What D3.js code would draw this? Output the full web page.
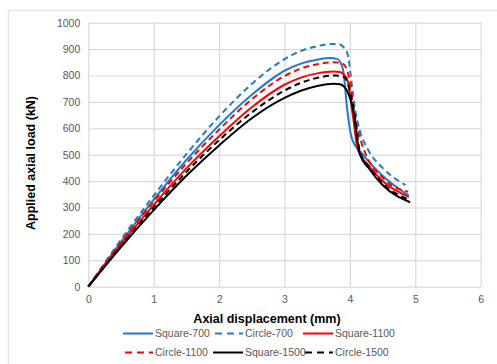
<!DOCTYPE html>
<html><head><meta charset="utf-8">
<script src="https://cdn.jsdelivr.net/npm/d3@7"></script>
<style>body{margin:0;background:#fff}svg{display:block}</style>
</head><body>
<svg id="c" width="497" height="364"></svg>
<script>
const xTicks = [0,1,2,3,4,5,6];
const yTicks = [0,100,200,300,400,500,600,700,800,900,1000];
const seriesNames = ["Square-700","Circle-700","Square-1100","Circle-1100","Square-1500","Circle-1500"];
const seriesColors = ["#1f7bd0","#1f7bd0","#ff0000","#ff0000","#000000","#000000"];
const seriesDashed = [false,true,false,true,false,true];
const square700 = [[0,0],[0.5,170],[1,330],[1.5,480],[2,612],[2.5,727],[3,818],[3.25,845],[3.5,860],[3.7,866],[3.8,863],[3.86,848],[3.9,815],[3.96,669],[4.03,562],[4.2,500],[4.5,420],[4.9,345]];
const circle700 = [[0,0],[0.5,178],[1,345],[1.5,502],[2,645],[2.5,768],[3,862],[3.25,893],[3.5,911],[3.7,919],[3.82,919],[3.9,908],[3.96,885],[4.08,669],[4.15,593],[4.28,518],[4.5,450],[4.85,385]];
const square1100 = [[0,0],[0.5,160],[1,310],[1.5,448],[2,570],[2.5,680],[3,765],[3.25,792],[3.5,808],[3.75,815],[3.85,813],[3.92,800],[3.96,785],[4.05,640],[4.12,520],[4.3,455],[4.5,400],[4.9,340]];
const circle1100 = [[0,0],[0.5,168],[1,323],[1.5,467],[2,595],[2.5,710],[3,798],[3.25,826],[3.5,843],[3.75,850],[3.85,848],[3.92,838],[3.98,800],[4.08,640],[4.18,543],[4.54,404],[4.89,360]];
const square1500 = [[0,0],[0.5,150],[1,290],[1.5,420],[2,535],[2.5,638],[3,715],[3.25,742],[3.5,760],[3.75,769],[3.85,767],[3.91,758],[3.95,745],[4.05,669],[4.15,505],[4.3,445],[4.5,385],[4.92,320]];
const circle1500 = [[0,0],[0.5,155],[1,300],[1.5,435],[2,555],[2.5,660],[3,743],[3.25,772],[3.5,791],[3.78,800],[3.88,797],[3.94,786],[3.98,760],[4.08,640],[4.15,515],[4.3,452],[4.5,392],[4.9,330]];
const seriesData = [square700,circle700,square1100,circle1100,square1500,circle1500];

const svg = d3.select("#c");
const font = "'Liberation Sans', Arial, sans-serif";
const grey = "#d9d9d9", txt = "#595959";

svg.append("rect").attr("x",8.5).attr("y",10.5).attr("width",500).attr("height",400)
  .attr("fill","#fff").attr("stroke","#e6e6e6").attr("stroke-width",1.5);

const x = d3.scaleLinear().domain([0,6]).range([88.3,480.7]);
const y = d3.scaleLinear().domain([0,1000]).range([286.7,22.7]);

const gx = svg.append("g").attr("transform","translate(0,286.7)")
  .call(d3.axisBottom(x).tickValues(xTicks).tickSize(-264).tickPadding(9).tickFormat(d3.format("d")));
const gy = svg.append("g").attr("transform","translate(88.3,0)")
  .call(d3.axisLeft(y).tickValues(yTicks).tickSize(-392.4).tickPadding(8).tickFormat(d3.format("d")));
[gx,gy].forEach(g=>{
  g.select(".domain").remove();
  g.selectAll(".tick line").attr("stroke",grey).attr("stroke-width",1.2);
  g.selectAll(".tick text").attr("fill",txt).style("font-family",font).style("font-size","10.5px");
});

const line = d3.line().x(d=>x(d[0])).y(d=>y(d[1])).curve(d3.curveMonotoneX);
seriesData.forEach((s,i)=>{
  svg.append("path").datum(s).attr("d",line).attr("fill","none")
    .attr("stroke",seriesColors[i]).attr("stroke-width",2)
    .attr("stroke-dasharray",seriesDashed[i]?"6,4":null);
});

svg.append("text").attr("x",267).attr("y",323).attr("text-anchor","middle")
  .style("font-family",font).style("font-size","12.5px").style("font-weight","bold").attr("fill","#000")
  .text("Axial displacement (mm)");
svg.append("text").attr("transform","translate(35,163) rotate(-90)").attr("text-anchor","middle")
  .style("font-family",font).style("font-size","12.5px").style("font-weight","bold").attr("fill","#000")
  .text("Applied axial load (kN)");

const legX = [123,213,303], legY = [333.5,352.5];
seriesNames.forEach((n,i)=>{
  const col = i%3, row = Math.floor(i/3);
  const g = svg.append("g").attr("transform",`translate(${legX[col]},${legY[row]})`);
  g.append("line").attr("x1",seriesDashed[i]?2:0).attr("x2",30).attr("y1",0).attr("y2",0)
    .attr("stroke",seriesColors[i]).attr("stroke-width",2)
    .attr("stroke-dasharray",seriesDashed[i]?"7,5":null);
  g.append("text").attr("x",32).attr("y",3.8).attr("fill",txt)
    .style("font-family",font).style("font-size","10.5px").text(n);
});
</script>
</body></html>
